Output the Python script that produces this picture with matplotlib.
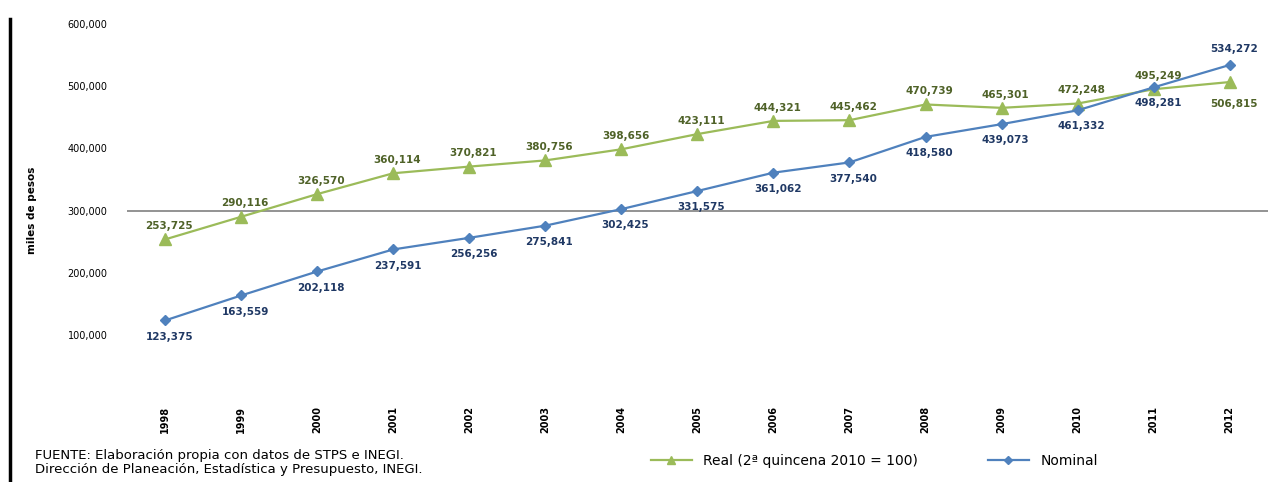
import matplotlib.pyplot as plt
from matplotlib.lines import Line2D

years = ['1998', '1999', '2000', '2001', '2002', '2003', '2004', '2005',
         '2006', '2007', '2008', '2009', '2010', '2011', '2012']
real = [253725, 290116, 326570, 360114, 370821, 380756, 398656, 423111,
        444321, 445462, 470739, 465301, 472248, 495249, 506815]
nominal = [123375, 163559, 202118, 237591, 256256, 275841, 302425, 331575,
           361062, 377540, 418580, 439073, 461332, 498281, 534272]

# which side of the point each data label goes (1 = above, -1 = below)
real_side = [1] * 15
real_side[14] = -1
nominal_side = [-1] * 15
nominal_side[14] = 1

green = '#9bbb59'
blue = '#4f81bd'
green_txt = '#4f6228'
blue_txt = '#1f3864'

fig = plt.figure(figsize=(12.86, 4.82), dpi=100)
ax = fig.add_axes([0.0988, 0.176, 0.887, 0.774])

x = list(range(len(years)))
ax.plot(x, real, color=green, lw=1.6, marker='^', markersize=8,
        label='Real (2ª quincena 2010 = 100)')
ax.plot(x, nominal, color=blue, lw=1.6, marker='D', markersize=5.5,
        label='Nominal')

for i in x:
    ax.annotate(f'{real[i]:,}', (i, real[i]), xytext=(3, 6 if real_side[i] > 0 else -12),
                textcoords='offset points', ha='center',
                va='bottom' if real_side[i] > 0 else 'top',
                fontsize=7.5, color=green_txt, fontweight='bold')
    ax.annotate(f'{nominal[i]:,}', (i, nominal[i]), xytext=(3, 8 * nominal_side[i]),
                textcoords='offset points', ha='center',
                va='bottom' if nominal_side[i] > 0 else 'top',
                fontsize=7.5, color=blue_txt, fontweight='bold')

ax.axhline(300000, color='#808080', lw=1.2, zorder=0)

ax.set_xlim(-0.5, 14.5)
ax.set_ylim(0, 600000)
ax.set_yticks([100000, 200000, 300000, 400000, 500000, 600000])
ax.set_yticklabels([f'{v:,}' for v in ax.get_yticks()], fontsize=7)
ax.set_xticks(x)
ax.set_xticklabels(years, rotation=90, fontsize=7, fontweight='bold')
ax.tick_params(length=0, pad=14)
ax.tick_params(axis='x', pad=6)
for s in ax.spines.values():
    s.set_visible(False)
ax.set_ylabel('miles de pesos', fontsize=7.5, fontweight='bold', labelpad=22)

ax.legend(loc='center', bbox_to_anchor=(0.655, -0.172), ncol=2,
          frameon=False, fontsize=10, columnspacing=5, handlelength=3,
          markerscale=0.8)

fig.text(0.027, 0.012, 'FUENTE: Elaboración propia con datos de STPS e INEGI.\n'
         'Dirección de Planeación, Estadística y Presupuesto, INEGI.',
         fontsize=9.5, va='bottom', linespacing=1.15)

fig.add_artist(Line2D([0.0075, 0.0075], [0.0, 0.96], color='black', lw=2.5))

fig.savefig('out.png')
